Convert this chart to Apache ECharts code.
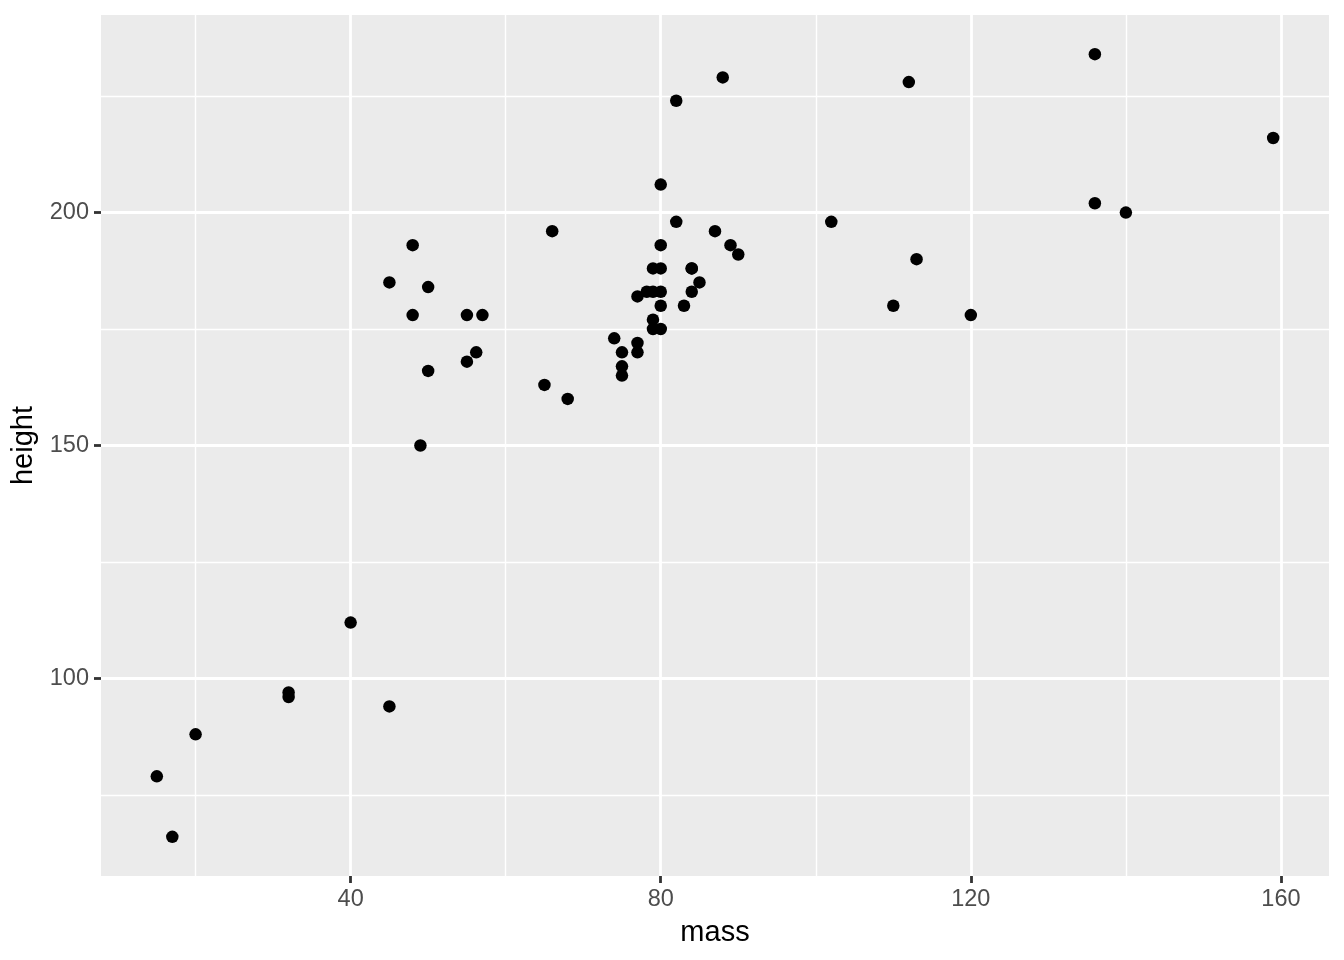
<!DOCTYPE html>
<html>
<head>
<meta charset="utf-8">
<script src="https://cdn.jsdelivr.net/npm/echarts@6/dist/echarts.min.js"></script>
<style>html,body{margin:0;padding:0;background:#fff}#c{width:1344px;height:960px}</style>
</head>
<body>
<div id="c"></div>
<script>
const mass = [77,75,32,136,49,120,75,32,84,77,84,112,80,74,77,110,17,75,78.2,140,113,79,79,83,20,68,89,90,45,66,82,40,80,55,15,45,65,84,82,87,50,80,85,80,56.2,50,80,79,55,102,88,48,57,159,136,79,48,80];
const height = [172,167,96,202,150,178,165,97,183,182,188,228,180,173,170,180,66,170,183,200,190,177,175,180,88,160,193,191,185,196,224,112,175,178,79,94,163,188,198,196,184,188,185,183,170,166,193,183,168,198,229,193,178,216,234,188,178,206];
const xTicks = [40,80,120,160];
const xMinor = [20,60,100,140];
const yTicks = [100,150,200];
const yMinor = [75,125,175,225];
const xRange = [7.8,166.2];
const yRange = [57.6,242.4];

const pts = mass.map((m,i)=>[m,height[i]]);
const chart = echarts.init(document.getElementById('c'));
const font = 'Liberation Sans, Arial, sans-serif';
const gl = (vals, key, w) => vals.map(v => ({[key]: v, lineStyle:{width:w}}));
const axisCommon = {
  nameLocation:'middle',
  nameTextStyle:{fontFamily:font,fontSize:29,color:'#000'},
  axisLine:{show:true,onZero:false,lineStyle:{color:'rgba(0,0,0,0)'}},
  splitLine:{show:false},
  axisLabel:{margin:12,fontFamily:font,fontSize:23.5,color:'#4D4D4D'}
};
chart.setOption({
  animation:false,
  grid:{left:101,right:15,top:15,bottom:84,show:true,backgroundColor:'#EBEBEB',borderWidth:0,containLabel:false},
  xAxis:Object.assign({},axisCommon,{type:'value',min:xRange[0],max:xRange[1],name:'mass',nameGap:42,
    axisTick:{show:true,length:7,lineStyle:{color:'#333',width:2.8},customValues:xTicks},
    axisLabel:Object.assign({},axisCommon.axisLabel,{customValues:xTicks})}),
  yAxis:Object.assign({},axisCommon,{type:'value',min:yRange[0],max:yRange[1],name:'height',nameGap:59,
    axisTick:{show:true,length:7,lineStyle:{color:'#333',width:2.8},customValues:yTicks},
    axisLabel:Object.assign({},axisCommon.axisLabel,{customValues:yTicks})}),
  series:[
    {type:'scatter',data:[],z:1,silent:true,
     markLine:{silent:true,z:1,symbol:'none',label:{show:false},animation:false,
       lineStyle:{color:'#fff',type:'solid'},
       data:[...gl(xMinor,'xAxis',1.4),...gl(yMinor,'yAxis',1.4),...gl(xTicks,'xAxis',2.8),...gl(yTicks,'yAxis',2.8)]}},
    {type:'scatter',data:pts,z:10,symbolSize:12.5,itemStyle:{color:'#000',opacity:1}}
  ]
});
</script>
</body>
</html>
